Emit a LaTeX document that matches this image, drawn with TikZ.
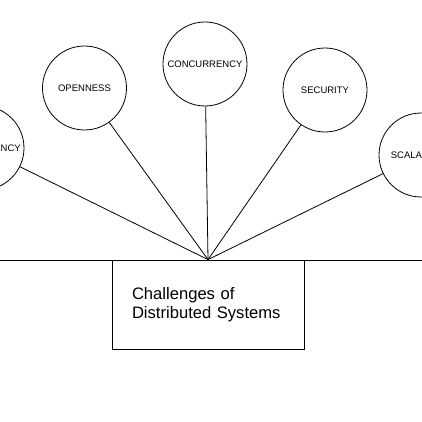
\documentclass[tikz,border=0pt]{standalone}
\usepackage{fontspec}
\setmainfont{Liberation Sans}

\tikzset{
    challenge/.style={draw, circle, minimum size=84pt, inner sep=0pt,
        font=\fontsize{9.5}{11}\selectfont},
    topicbox/.style={draw, rectangle, minimum width=192pt, minimum height=89pt,
        inner xsep=20pt, text width=152pt, align=left,
        font=\fontsize{16.6}{19}\selectfont}
}

\begin{document}
\begin{tikzpicture}[x=1pt, y=-1pt, line width=0.8pt]
    % Frame
    \clip (0,0) rectangle (422,422);
    \fill[white] (0,0) rectangle (422,422);

    % Main box
    \node[topicbox] (box) at (208,304.5) {Challenges of\\Distributed Systems};

    % Baseline across the page
    \coordinate (lft) at (0,260);
    \coordinate (rgt) at (422,260);
    \draw (lft) -- (rgt);

    % Challenges
    \node[challenge] (transp) at (-18,148) {TRANSPARENCY};
    \node[challenge] (open) at (84.5,88) {OPENNESS};
    \node[challenge] (conc) at (205,64) {CONCURRENCY};
    \node[challenge] (secu) at (325,90) {SECURITY};
    \node[challenge] (scal) at (421,155) {SCALABILITY};

    % Spokes
    \draw (box.north) -- (transp);
    \draw (box.north) -- (open);
    \draw (box.north) -- (conc);
    \draw (box.north) -- (secu);
    \draw (box.north) -- (scal);
\end{tikzpicture}
\end{document}
